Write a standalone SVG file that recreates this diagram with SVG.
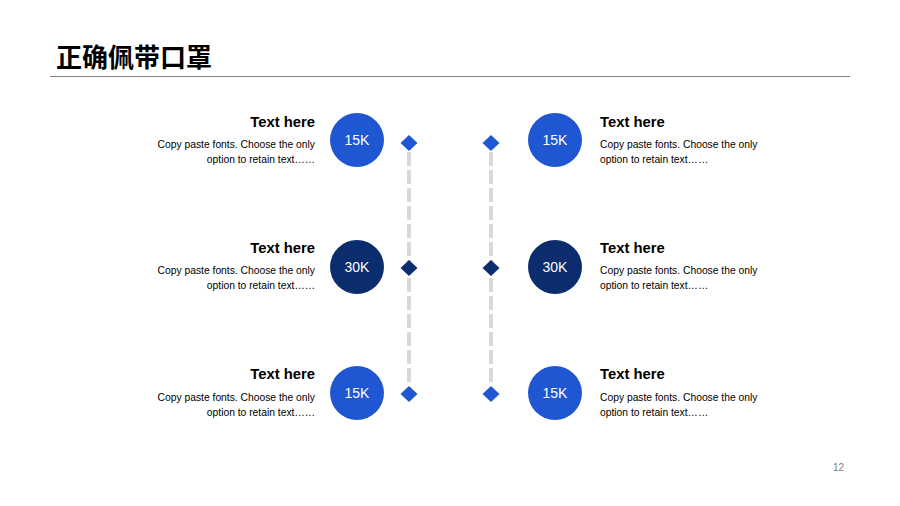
<svg xmlns="http://www.w3.org/2000/svg" width="900" height="506" viewBox="0 0 900 506">
<style>
.title{font-family:"Noto Sans CJK SC","Liberation Sans",sans-serif;font-weight:bold;font-size:26px;fill:#000}
.h{font-family:"Liberation Sans",Arial,sans-serif;font-weight:bold;font-size:14.8px;fill:#000}
.b{font-family:"Liberation Sans",Arial,sans-serif;font-size:10.3px;fill:#000}
.c{font-family:"Liberation Sans",Arial,sans-serif;font-size:14px;fill:#fff;text-anchor:middle}
.blue{fill:#1F56D2}
.dark{fill:#0B2D6E}
.dash{stroke:#D9D9D9;stroke-width:4;stroke-dasharray:14 4;fill:none}
.r{text-anchor:end}
</style>
<rect width="900" height="506" fill="#fff"/>
<text class="title" x="56" y="67">正确佩带口罩</text>
<line x1="50" y1="76.5" x2="850" y2="76.5" stroke="#808080" stroke-width="1"/>
<g id="connectors">
<line class="dash" x1="409" y1="152" x2="409" y2="386"/>
<line class="dash" x1="491" y1="152" x2="491" y2="386"/>
</g>
<g id="diamonds">
<polygon class="blue" points="409,135 417.5,143 409,151 400.5,143"/>
<polygon class="dark" points="409,260 417.5,268 409,276 400.5,268"/>
<polygon class="blue" points="409,386 417.5,394 409,402 400.5,394"/>
<polygon class="blue" points="491,135 499.5,143 491,151 482.5,143"/>
<polygon class="dark" points="491,260 499.5,268 491,276 482.5,268"/>
<polygon class="blue" points="491,386 499.5,394 491,402 482.5,394"/>
</g>
<g id="left1">
<circle class="blue" cx="357" cy="140" r="27"/>
<text class="c" x="357" y="145">15K</text>
<text class="h r" x="315" y="127">Text here</text>
<text class="b r" x="315" y="148">Copy paste fonts. Choose the only</text>
<text class="b r" x="315" y="163">option to retain text……</text>
</g>
<g id="left2">
<circle class="dark" cx="357" cy="267" r="27"/>
<text class="c" x="357" y="272">30K</text>
<text class="h r" x="315" y="253">Text here</text>
<text class="b r" x="315" y="274">Copy paste fonts. Choose the only</text>
<text class="b r" x="315" y="289">option to retain text……</text>
</g>
<g id="left3">
<circle class="blue" cx="357" cy="393" r="27"/>
<text class="c" x="357" y="398">15K</text>
<text class="h r" x="315" y="379">Text here</text>
<text class="b r" x="315" y="401">Copy paste fonts. Choose the only</text>
<text class="b r" x="315" y="416">option to retain text……</text>
</g>
<g id="right1">
<circle class="blue" cx="555" cy="140" r="27"/>
<text class="c" x="555" y="145">15K</text>
<text class="h" x="600" y="127">Text here</text>
<text class="b" x="600" y="148">Copy paste fonts. Choose the only</text>
<text class="b" x="600" y="163">option to retain text……</text>
</g>
<g id="right2">
<circle class="dark" cx="555" cy="267" r="27"/>
<text class="c" x="555" y="272">30K</text>
<text class="h" x="600" y="253">Text here</text>
<text class="b" x="600" y="274">Copy paste fonts. Choose the only</text>
<text class="b" x="600" y="289">option to retain text……</text>
</g>
<g id="right3">
<circle class="blue" cx="555" cy="393" r="27"/>
<text class="c" x="555" y="398">15K</text>
<text class="h" x="600" y="379">Text here</text>
<text class="b" x="600" y="401">Copy paste fonts. Choose the only</text>
<text class="b" x="600" y="416">option to retain text……</text>
</g>
<text x="844" y="471" text-anchor="end" font-family="Liberation Sans,Arial,sans-serif" font-size="10" fill="#808080">12</text>
</svg>
